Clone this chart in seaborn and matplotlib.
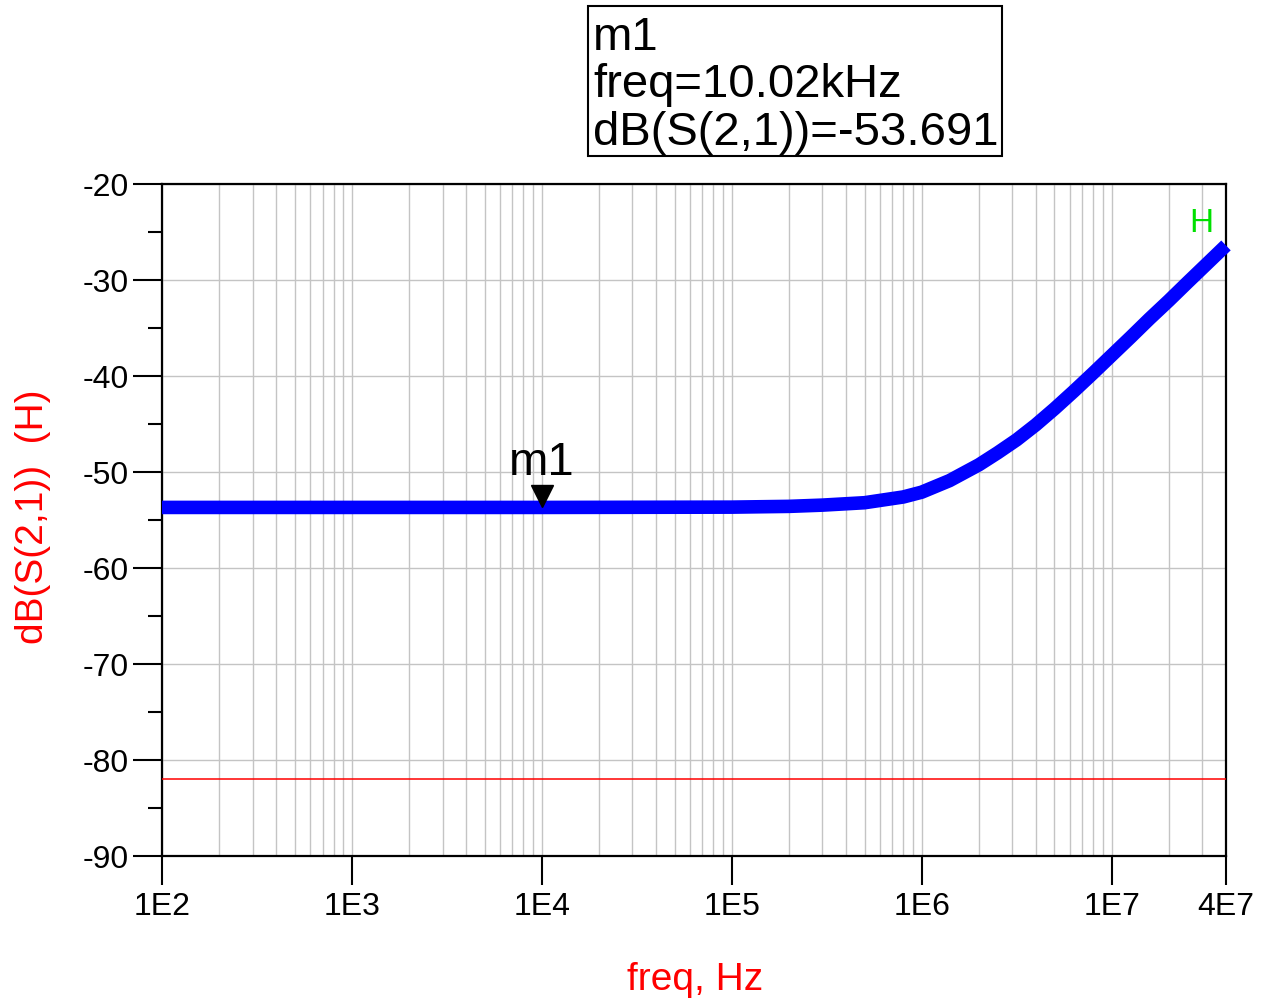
import numpy as np
import pandas as pd
import matplotlib
matplotlib.use("Agg")
import matplotlib.pyplot as plt
import matplotlib.ticker as mticker
from matplotlib.patches import Rectangle
from matplotlib.transforms import offset_copy
import seaborn as sns

# ------- data -------
freq_hz = [1e2, 1e3, 1e4, 1e5, 2e5, 3e5, 5e5, 8e5, 1e6, 1.4e6, 2e6, 2.51e6,
           3.16e6, 3.98e6, 5.01e6, 6.31e6, 7.94e6, 1e7, 1.26e7, 1.58e7, 2e7,
           2.51e7, 3.16e7, 4e7]
s21_db  = [-53.69, -53.69, -53.691, -53.66, -53.58, -53.45, -53.2, -52.6, -52.1, -50.9,
           -49.25, -48.0, -46.65, -45.1, -43.4, -41.6, -39.75, -37.85, -35.95, -34.05,
           -32.15, -30.25, -28.35, -26.4]

marker_freq = 1.002e4
marker_db   = -53.691
limit_db    = -82

x_ticks  = [1e2, 1e3, 1e4, 1e5, 1e6, 1e7, 4e7]
x_labels = ["1E2", "1E3", "1E4", "1E5", "1E6", "1E7", "4E7"]
y_ticks  = list(range(-90, -19, 10))

df = pd.DataFrame({"freq": freq_hz, "db": s21_db})

# ------- style -------
sns.set_style("white")
plt.rcParams["font.family"] = ["Liberation Sans", "DejaVu Sans"]
plt.rcParams["axes.unicode_minus"] = False

W, H = 1266, 1002
fig = plt.figure(figsize=(W / 100, H / 100), dpi=100)
ax = fig.add_axes([162 / W, 1 - 856 / H, (1226 - 162) / W, (856 - 184) / H])

sns.lineplot(data=df, x="freq", y="db", ax=ax, color="#0000ff", lw=9.8,
             solid_capstyle="butt", solid_joinstyle="round", clip_on=False, zorder=4)
ax.axhline(limit_db, color="#ff0000", lw=1.1, zorder=3)

ax.set_xscale("log")
ax.set_xlim(1e2, 4e7)
ax.set_ylim(-90, -20)

ax.set_xticks(x_ticks)
ax.set_xticklabels(x_labels)
ax.xaxis.set_minor_locator(mticker.LogLocator(base=10, subs=np.arange(2, 10), numticks=20))
ax.xaxis.set_minor_formatter(mticker.NullFormatter())
ax.set_yticks(y_ticks)
ax.yaxis.set_minor_locator(mticker.MultipleLocator(5))

ax.tick_params(axis="both", which="both", bottom=True, left=True, top=False, right=False)
ax.tick_params(axis="both", which="major", direction="out", length=21, width=1.5,
               color="black", labelsize=23, labelcolor="black")
ax.tick_params(axis="x", which="major", pad=5)
ax.tick_params(axis="y", which="major", pad=3)
ax.tick_params(axis="x", which="minor", length=0)
ax.tick_params(axis="y", which="minor", direction="out", length=10, width=1.5, color="black")

ax.grid(True, which="major", color="#c4c4c4", lw=1.0, zorder=1)
ax.grid(True, axis="x", which="minor", color="#c4c4c4", lw=1.0, zorder=1)
ax.set_axisbelow(True)

for sp in ax.spines.values():
    sp.set_visible(True)
    sp.set_color("black")
    sp.set_linewidth(1.6)

ax.set_xlabel("freq, Hz", color="#ff0000", fontsize=28, va="center")
ax.xaxis.set_label_coords((695 - 162) / 1064, (856 - 980) / 672)
ax.set_ylabel("dB(S(2,1))  (H)", color="#ff0000", fontsize=28, va="center")
ax.yaxis.set_label_coords((33 - 162) / 1064, (856 - 517) / 672)

# marker m1
tri = offset_copy(ax.transData, fig=fig, x=0, y=8, units="points")
ax.plot([marker_freq], [marker_db], marker="v", ms=16, color="black",
        transform=tri, zorder=6, clip_on=False)
ax.annotate("m1", xy=(marker_freq, marker_db), xytext=(0, 23),
            textcoords="offset points", ha="center", va="baseline",
            fontsize=34, color="black", zorder=6)

# trace name
ax.text(2.98e7, -24.1, "H", color="#00e000", fontsize=24, ha="center", va="center")

# marker readout box
fig.patches.append(Rectangle((588 / W, 1 - 156 / H), 414 / W, 150 / H,
                             transform=fig.transFigure, fill=False,
                             edgecolor="black", lw=1.5))
box_lines = ["m1", f"freq={marker_freq / 1e3:.2f}kHz", f"dB(S(2,1))={marker_db:.3f}"]
for txt, base in zip(box_lines, [50, 97, 145]):
    fig.text(593 / W, 1 - base / H, txt, fontsize=34, ha="left", va="baseline",
             color="black")

plt.savefig("out.png", dpi=100)
